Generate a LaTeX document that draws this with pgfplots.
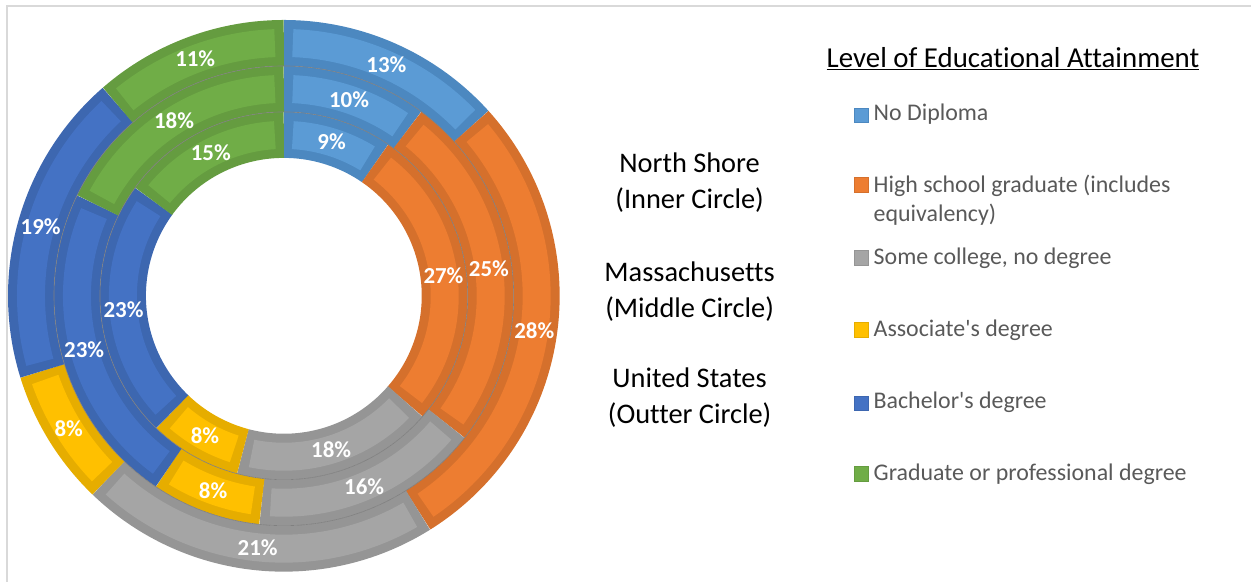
\documentclass[border=0pt]{standalone}
\usepackage{fontspec}
\setmainfont{Carlito}[Ligatures={NoCommon,TeXOff}]
\usepackage{pgfplots}
\usepackage{pgfplotstable}
\pgfplotsset{compat=1.18}

\definecolor{lt0}{HTML}{5B9BD5}\definecolor{dk0}{HTML}{4C88C0}
\definecolor{lt1}{HTML}{ED7D31}\definecolor{dk1}{HTML}{D5702C}
\definecolor{lt2}{HTML}{A5A5A5}\definecolor{dk2}{HTML}{959595}
\definecolor{lt3}{HTML}{FFC000}\definecolor{dk3}{HTML}{E6AD00}
\definecolor{lt4}{HTML}{4472C4}\definecolor{dk4}{HTML}{3D67B0}
\definecolor{lt5}{HTML}{70AD47}\definecolor{dk5}{HTML}{659C40}
\definecolor{legtxt}{HTML}{595959}

\tikzset{
  lbl/.style={font=\fontsize{23}{27}\selectfont\bfseries, text=white, inner sep=0pt},
  legtext/.style={font=\fontsize{24}{29}\selectfont, text=legtxt, anchor=base west, inner sep=0pt},
  ctext/.style={font=\fontsize{28.5}{34}\selectfont, text=black, anchor=base, inner sep=0pt},
}

% shares (percent) of each ring, clockwise from 12 o'clock; L = printed label
\pgfplotstableread{
cat inner innerL middle middleL outer outerL
0   9.6   9      10.2   10      13.3  13
1   26.8  27     25.4   25      27.8  28
2   17.7  18     16.1   16      21.1  21
3   8.1   8      7.7    8       8.0   8
4   22.8  23     22.8   23      18.4  19
5   15.0  15     17.8   18      11.4  11
}\data

\newcommand\ring[2]{%
 \def\cum{0}%
 \pgfplotsforeachungrouped \i in {0,...,5}{%
  \pgfplotstablegetelem{\i}{#1}\of\data \let\v\pgfplotsretval
  \pgfplotstablegetelem{\i}{#1L}\of\data \let\lab\pgfplotsretval
  \pgfmathsetmacro\aS{\cum*3.6}%
  \pgfmathsetmacro\cum{\cum+\v}%
  \pgfmathsetmacro\aE{\cum*3.6}%
  \pgfmathsetmacro\aM{(\aS+\aE)/2}%
  \pgfmathsetmacro\ins{9/#2*57.2958}%
  \pgfmathsetmacro\bS{\aS+\ins}%
  \pgfmathsetmacro\bE{\aE-\ins}%
  \pgfmathsetmacro\lx{284+#2*sin(\aM)}%
  \pgfmathsetmacro\ly{286+#2*cos(\aM)}%
  \edef\temp{%
   \noexpand\addplot[draw=dk\i, line width=46bp, domain=\aS:\aE, samples=90] ({284+#2*sin(x)},{286+#2*cos(x)});
   \noexpand\addplot[draw=lt\i, line width=28bp, domain=\bS:\bE, samples=90] ({284+#2*sin(x)},{286+#2*cos(x)});
   \noexpand\node[lbl] at (axis cs:\lx,\ly) {\lab\noexpand\%};
  }\temp
 }}

\begin{document}
\begin{tikzpicture}
\begin{axis}[
  width=1252bp, height=582bp, scale only axis,
  xmin=0, xmax=1252, ymin=0, ymax=582,
  enlargelimits=false, hide axis, clip=false,
]
\path (axis cs:0,0) rectangle (axis cs:1252,582);
% chart border
\addplot[draw=black!15, line width=1.5bp] coordinates {(7,0) (7,576) (1252,576)};

\ring{inner}{161}
\ring{middle}{207}
\ring{outer}{253}

% thin separators between rings
\addplot[draw=black!50, line width=0.6bp, domain=0:360, samples=240] ({284+184*sin(x)},{286+184*cos(x)});
\addplot[draw=black!50, line width=0.6bp, domain=0:360, samples=240] ({284+230*sin(x)},{286+230*cos(x)});

% centre captions
\node[ctext] at (axis cs:690,409) {North Shore};
\node[ctext] at (axis cs:690,373) {(Inner Circle)};
\node[ctext] at (axis cs:690,300) {Massachusetts};
\node[ctext] at (axis cs:690,264) {(Middle Circle)};
\node[ctext] at (axis cs:690,194) {United States};
\node[ctext] at (axis cs:690,158) {(Outter Circle)};

% legend
\node[font=\fontsize{29}{34}\selectfont, anchor=base west, inner sep=0pt] at (axis cs:827,514) {\underline{Level of Educational Attainment}};
\addplot[only marks, mark=square*, mark size=7.2bp, mark options={fill=lt0, draw=dk0}] coordinates {(862,467)};
\addplot[only marks, mark=square*, mark size=7.2bp, mark options={fill=lt1, draw=dk1}] coordinates {(862,397)};
\addplot[only marks, mark=square*, mark size=7.2bp, mark options={fill=lt2, draw=dk2}] coordinates {(862,324)};
\addplot[only marks, mark=square*, mark size=7.2bp, mark options={fill=lt3, draw=dk3}] coordinates {(862,252)};
\addplot[only marks, mark=square*, mark size=7.2bp, mark options={fill=lt4, draw=dk4}] coordinates {(862,178.5)};
\addplot[only marks, mark=square*, mark size=7.2bp, mark options={fill=lt5, draw=dk5}] coordinates {(862,108)};
\node[legtext] at (axis cs:874,461) {No Diploma};
\node[legtext] at (axis cs:874,389) {High school graduate (includes};
\node[legtext] at (axis cs:874,360) {equivalency)};
\node[legtext] at (axis cs:874,317) {Some college, no degree};
\node[legtext] at (axis cs:874,245) {Associate's degree};
\node[legtext] at (axis cs:874,173) {Bachelor's degree};
\node[legtext] at (axis cs:874,101) {Graduate or professional degree};
\end{axis}
\end{tikzpicture}
\end{document}
